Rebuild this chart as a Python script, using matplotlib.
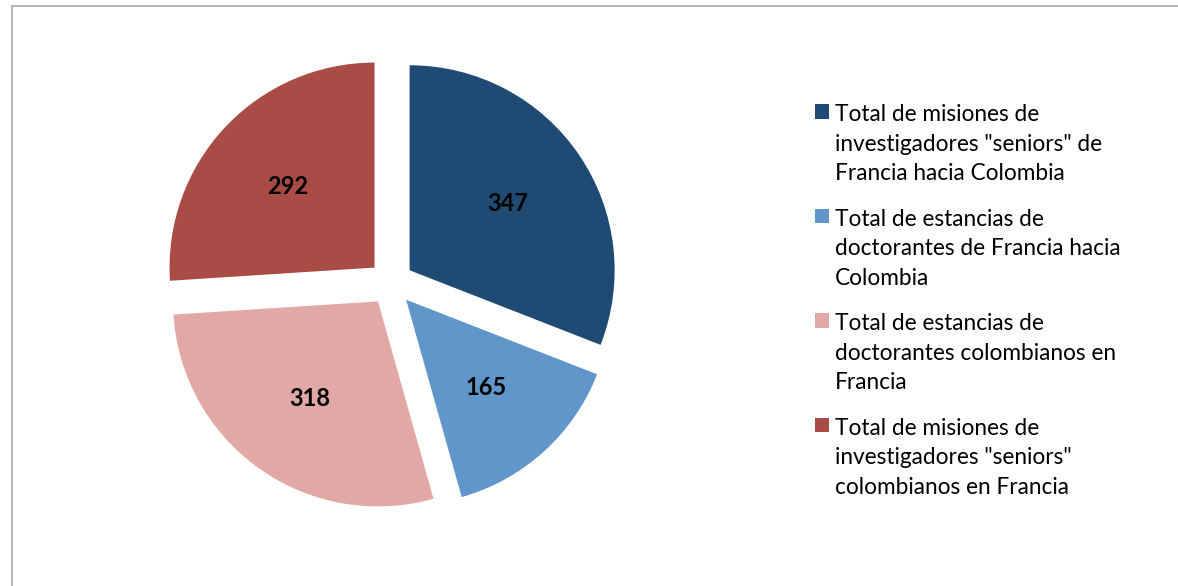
import matplotlib
matplotlib.use("Agg")
import matplotlib.pyplot as plt
from matplotlib.patches import Rectangle

labels = [
    'Total de misiones de\ninvestigadores "seniors" de\nFrancia hacia Colombia',
    'Total de estancias de\ndoctorantes de Francia hacia\nColombia',
    'Total de estancias de\ndoctorantes colombianos en\nFrancia',
    'Total de misiones de\ninvestigadores "seniors"\ncolombianos en Francia',
]
values = [347, 165, 318, 292]
colors = ["#1F4A74", "#6096C9", "#E2A8A6", "#A84C45"]

W, H = 1178, 586
fig = plt.figure(figsize=(W / 100, H / 100), dpi=100)
plt.rcParams['font.family'] = ['Lato', 'DejaVu Sans']

# pie geometry (pixels)
cx, cy, R = 391, 283, 205
ax = fig.add_axes([0, 0, 1, 1])
ax.axis('off')

wedges, texts, autotexts = ax.pie(
    values, colors=colors, startangle=90, counterclock=False,
    explode=[0.11] * len(values), radius=1.0,
    autopct=lambda p: f"{p * sum(values) / 100:.0f}", pctdistance=0.58,
    textprops=dict(fontsize=17, fontweight='bold', color='black'),
    wedgeprops=dict(linewidth=0),
)
ax.set_aspect('auto')
ax.set_xlim(-cx / R, (W - cx) / R)
ax.set_ylim(-(H - cy) / R, cy / R)

leg = fig.legend(
    wedges, labels, loc='upper left',
    bbox_to_anchor=(815 / W, 1 - 104 / H),
    frameon=False, fontsize=16.3, handlelength=0.62, handleheight=0.62,
    handletextpad=0.25, labelspacing=1.07, borderpad=0, borderaxespad=0,
)
for t in leg.get_texts():
    t.set_linespacing(1.51)
try:
    for col in leg._legend_handle_box.get_children():
        for hp in col.get_children():
            hp.align = "top"
except Exception:
    pass

# chart-area frame
fig.patches.append(Rectangle((12 / W, -0.01), 1.2, 1 - 6 / H + 0.01,
                             transform=fig.transFigure, fill=False,
                             edgecolor='#A8A8A8', linewidth=1.2))

fig.savefig('out.png', dpi=100)
